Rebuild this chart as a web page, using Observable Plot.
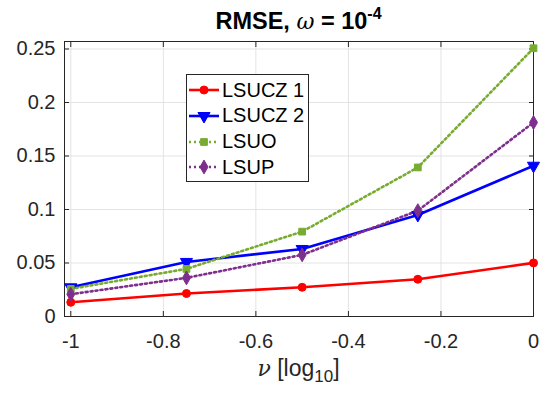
<!DOCTYPE html>
<html>
<head>
<meta charset="utf-8">
<script src="https://cdn.jsdelivr.net/npm/d3@7"></script>
<script src="https://cdn.jsdelivr.net/npm/@observablehq/plot@0.6"></script>
<style>
  body { margin: 0; background: #fff; font-family: "Liberation Sans", Arial, sans-serif; }
  #wrap { position: relative; width: 550px; height: 399px; }
  #title { position: absolute; left: 64px; width: 469px; top: 10px; text-align: center; line-height: 1;
           font-weight: bold; font-size: 23.5px; color: #000; white-space: nowrap; }
  #title i { font-weight: normal; font-family: "DejaVu Serif", serif; font-size: 22px; }
  #title sup { font-size: 16px; line-height: 0; position: relative; top: -1px; }
  #xlabel { position: absolute; left: 64px; width: 469px; top: 357px; text-align: center; line-height: 1; font-size: 23px; color: #262626; white-space: nowrap; }
  #xlabel i { font-family: "DejaVu Serif", serif; font-size: 22px; }
  #xlabel sub { font-size: 17px; line-height: 0; }
  #legend { position: absolute; left: 186px; top: 74px; width: 121px; height: 106px; border: 1px solid #262626; background: #fff; }
  .row { position: absolute; left: 0; height: 26px; display: flex; align-items: center; font-size: 20px; color: #000; white-space: nowrap; }
  .row svg { margin-left: 1px; margin-right: 2px; }
</style>
</head>
<body>
<div id="wrap">
  <div id="chart"></div>
  <div id="title">RMSE, <i>ω</i> = 10<sup>-4</sup></div>
  <div id="xlabel"><i>ν</i> [log<sub>10</sub>]</div>
  <div id="legend"></div>
</div>
<script>
const xs = [-1, -0.75, -0.5, -0.25, 0];
const lsucz1 = [0.0133, 0.0215, 0.0273, 0.0348, 0.0501];
const lsucz2 = [0.0273, 0.0510, 0.0631, 0.0949, 0.1409];
const lsuo = [0.0258, 0.0445, 0.0793, 0.1393, 0.2507];
const lsup = [0.0208, 0.0361, 0.0576, 0.0989, 0.1813];
const seriesNames = ["LSUCZ 1", "LSUCZ 2", "LSUO", "LSUP"];
const xTicks = [-1, -0.8, -0.6, -0.4, -0.2, 0];
const xTickLabels = ["-1", "-0.8", "-0.6", "-0.4", "-0.2", "0"];
const yTicks = [0, 0.05, 0.1, 0.15, 0.2, 0.25];
const yTickLabels = ["0", "0.05", "0.1", "0.15", "0.2", "0.25"];

const styles = [
  {color: "#ff0000", symbol: "circle", rotate: 0, dash: null, r: 4},
  {color: "#0000ff", symbol: "triangle", rotate: 180, dash: null, r: 4.5},
  {color: "#77ac30", symbol: "square", rotate: 0, dash: "2,3", r: 3.8},
  {color: "#7e2f8e", symbol: "diamond", rotate: 0, dash: "2,3", r: 4.2}
];
const allSeries = [lsucz1, lsucz2, lsuo, lsup];
const rows = [];
allSeries.forEach((vals, s) => vals.forEach((v, i) => rows.push({series: seriesNames[s], s, x: xs[i], y: v})));

const marks = [
  Plot.gridX(xTicks, {stroke: "#e3e3e3", strokeOpacity: 1}),
  Plot.gridY(yTicks, {stroke: "#e3e3e3", strokeOpacity: 1}),
  Plot.frame({stroke: "#262626", strokeWidth: 1}),
  Plot.axisX(xTicks, {anchor: "bottom", tickSize: -5, tickFormat: () => "", label: null, stroke: "#262626"}),
  Plot.axisX(xTicks, {anchor: "top", tickSize: -5, tickFormat: () => "", label: null, stroke: "#262626"}),
  Plot.axisY(yTicks, {anchor: "left", tickSize: -5, tickFormat: () => "", label: null, stroke: "#262626"}),
  Plot.axisY(yTicks, {anchor: "right", tickSize: -5, tickFormat: () => "", label: null, stroke: "#262626"}),
  Plot.axisX(xTicks, {anchor: "bottom", tickSize: 0, tickPadding: 17, tickFormat: (d, i) => xTickLabels[i], label: null, fontSize: 20, fill: "#262626"}),
  Plot.axisY(yTicks, {anchor: "left", tickSize: 0, tickPadding: 9, tickFormat: (d, i) => yTickLabels[i], label: null, fontSize: 20, fill: "#262626"})
];
styles.forEach((st, s) => {
  const data = rows.filter(d => d.s === s);
  marks.push(Plot.line(data, {x: "x", y: "y", stroke: st.color, strokeWidth: 2.6, strokeDasharray: st.dash}));
});
styles.forEach((st, s) => {
  const data = rows.filter(d => d.s === s);
  marks.push(Plot.dot(data, {x: "x", y: "y", symbol: () => st.symbol, r: st.r, fill: st.color, stroke: st.color, strokeWidth: 1, rotate: st.rotate}));
});

const chart = Plot.plot({
  width: 550, height: 399,
  marginLeft: 64, marginRight: 17, marginTop: 41, marginBottom: 83,
  x: {domain: [-1.0136, 0]},
  y: {domain: [0, 0.257]},
  style: {fontFamily: "'Liberation Sans', Arial, sans-serif", fontSize: "20px", color: "#262626", background: "#fff"},
  marks
});
document.getElementById("chart").appendChild(chart);

// Legend
const legend = document.getElementById("legend");
const symGen = {circle: d3.symbolCircle, triangle: d3.symbolTriangle, square: d3.symbolSquare, diamond: d3.symbolDiamond};
seriesNames.forEach((name, s) => {
  const st = styles[s];
  const row = document.createElement("div");
  row.className = "row";
  row.style.top = (2 + s * 25.8) + "px";
  const path = d3.symbol(symGen[st.symbol], Math.PI * st.r * st.r)();
  row.innerHTML = `<svg width="32" height="14"><line x1="1" x2="31" y1="7" y2="7" stroke="${st.color}" stroke-width="2.6" ${st.dash ? `stroke-dasharray="${st.dash}"` : ""}/><path d="${path}" transform="translate(16,7) rotate(${st.rotate})" fill="${st.color}" stroke="${st.color}"/></svg><span>${name}</span>`;
  legend.appendChild(row);
});
</script>
</body>
</html>
